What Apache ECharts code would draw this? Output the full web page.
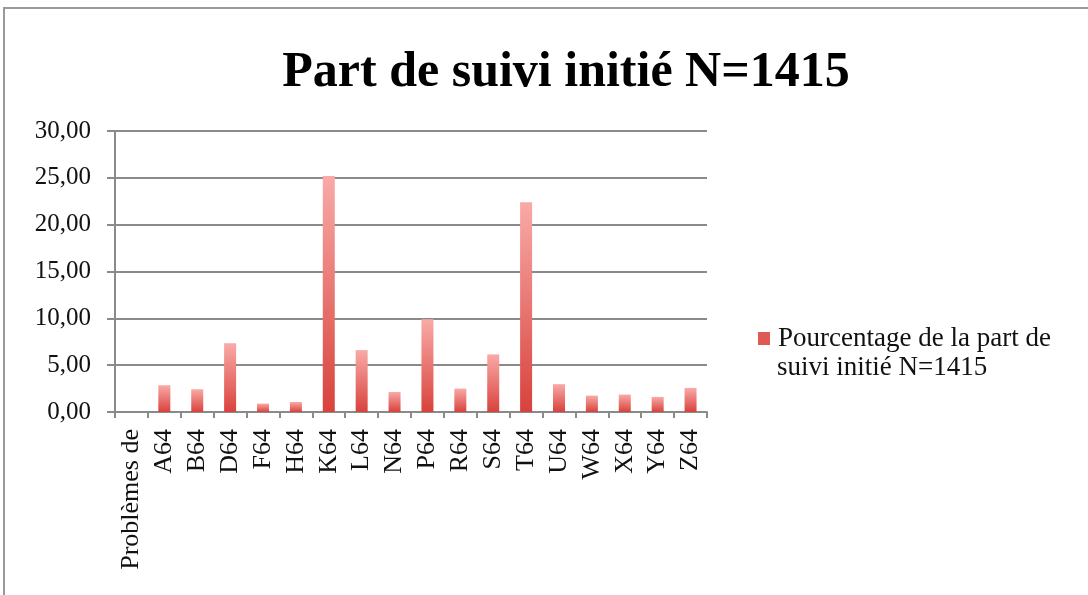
<!DOCTYPE html>
<html>
<head>
<meta charset="utf-8">
<script src="https://cdn.jsdelivr.net/npm/echarts@6/dist/echarts.min.js"></script>
<style>
  html, body { margin: 0; padding: 0; background: #fff; }
  #chart { width: 1088px; height: 595px; }
</style>
</head>
<body>
<div id="chart"></div>
<script>
var categories = ["Problèmes de", "A64", "B64", "D64", "F64", "H64", "K64", "L64", "N64",
  "P64", "R64", "S64", "T64", "U64", "W64", "X64", "Y64", "Z64"];
var values = [0, 2.86, 2.43, 7.33, 0.9, 1.07, 25.19, 6.61, 2.14,
  9.9, 2.5, 6.15, 22.4, 2.97, 1.75, 1.86, 1.61, 2.57];
var seriesName = "Pourcentage de la part de suivi initié N=1415";
var yTicks = [0, 5, 10, 15, 20, 25, 30];

var serif = "'Liberation Serif', 'DejaVu Serif', serif";
var barColor = new echarts.graphic.LinearGradient(0, 0, 0, 1, [
  { offset: 0, color: "#f9aaa7" },
  { offset: 1, color: "#d8423c" }
]);

var myChart = echarts.init(document.getElementById("chart"));
var option = {
  animation: false,
  backgroundColor: "#fff",
  graphic: [
    {
      type: "rect",
      shape: { x: 4, y: 8, width: 1100, height: 620 },
      style: { fill: "none", stroke: "#9a9a9a", lineWidth: 2 },
      silent: true
    },
    {
      // second line of the legend label
      type: "text",
      left: 777,
      top: 354,
      style: {
        text: "suivi initié N=1415",
        font: "27px " + serif,
        fill: "#111"
      },
      silent: true
    }
  ],
  title: {
    text: "Part de suivi initié N=1415",
    left: 561,
    textAlign: "center",
    top: 43,
    textStyle: {
      fontFamily: serif,
      fontWeight: "bold",
      fontSize: 50,
      color: "#000"
    }
  },
  legend: {
    left: 753,
    top: 320,
    itemWidth: 12,
    itemHeight: 13,
    icon: "rect",
    formatter: function() {
      return "Pourcentage de la part de";
    },
    textStyle: {
      fontFamily: serif,
      fontSize: 27,
      color: "#111",
      padding: [0, 0, 0, 3]
    },
    data: [{ name: seriesName, itemStyle: { color: "#e05a55" } }]
  },
  grid: {
    left: 115,
    right: 381,
    top: 131,
    bottom: 183,
    containLabel: false
  },
  xAxis: {
    type: "category",
    data: categories,
    axisLine: { lineStyle: { color: "#8a8a8a", width: 2 } },
    axisTick: { show: true, length: 6, lineStyle: { color: "#8a8a8a", width: 2 } },
    axisLabel: {
      interval: 0,
      rotate: 90,
      margin: 17,
      fontFamily: serif,
      fontSize: 26,
      color: "#111"
    }
  },
  yAxis: {
    type: "value",
    min: 0,
    max: yTicks[yTicks.length - 1],
    interval: yTicks[1] - yTicks[0],
    axisLine: { show: true, lineStyle: { color: "#8a8a8a", width: 2 } },
    axisTick: { show: true, length: 8, lineStyle: { color: "#8a8a8a", width: 2 } },
    splitLine: { lineStyle: { color: "#8a8a8a", width: 2 } },
    axisLabel: {
      margin: 24,
      fontFamily: serif,
      fontSize: 25,
      color: "#111",
      padding: [6, 0, 0, 0],
      formatter: function(v) {
        return v.toFixed(2).replace(".", ",");
      }
    }
  },
  series: [
    {
      name: seriesName,
      type: "bar",
      barWidth: 12,
      data: values,
      itemStyle: { color: barColor }
    }
  ]
};
myChart.setOption(option);
</script>
</body>
</html>
